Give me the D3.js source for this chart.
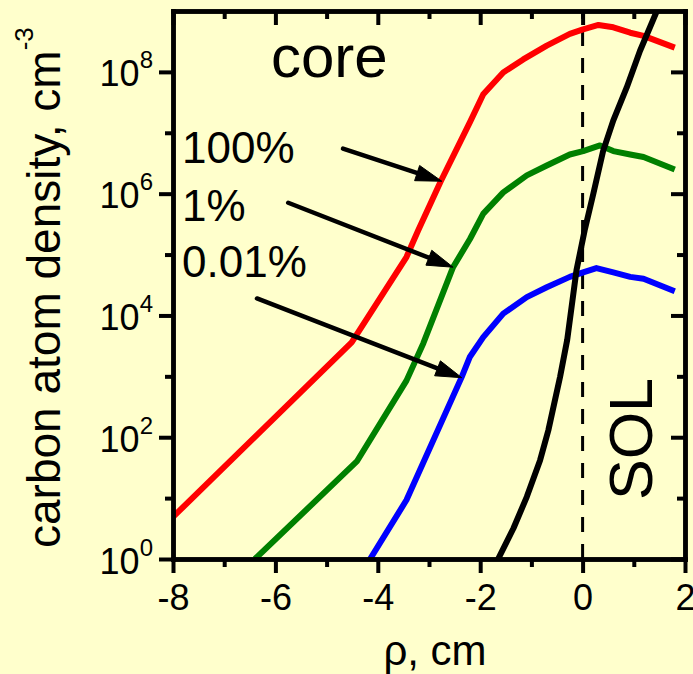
<!DOCTYPE html>
<html><head><meta charset="utf-8">
<script src="https://cdn.jsdelivr.net/npm/d3@7"></script>
<style>
html,body{margin:0;padding:0;background:#FFFFCC;}
svg{display:block;font-family:"Liberation Sans",Arial,Helvetica,sans-serif;}
</style></head><body>
<svg id="chart" width="693" height="674"></svg>
<script>
// ---- data ----
const xDomain = [-8, 2];
const yDomain = [1, 1e9];
const xMajorTicks = [-8, -6, -4, -2, 0, 2];
const xMinorTicks = [-7, -5, -3, -1, 1];
const xTickLabels = ["-8", "-6", "-4", "-2", "0", "2"];
const yMajorTicks = [1, 1e2, 1e4, 1e6, 1e8];
const yMinorTicks = [1e1, 1e3, 1e5, 1e7];
const yMajorExponents = ["0", "2", "4", "6", "8"];

// 100 % curve (red)
const rho100  = [-8, -4.51, -3.44, -3.21, -2.77, -2.2, -1.94, -1.55, -1.16, -0.70, -0.25, 0.01, 0.31, 0.60, 0.93, 1.19, 1.80];
const dens100 = [4.9, 3.6e3, 9.1e4, 2.5e5, 1.6e6, 1.5e7, 4.3e7, 9.8e7, 1.6e8, 2.7e8, 4.2e8, 5.0e8, 5.9e8, 5.4e8, 4.4e8, 3.9e8, 2.5e8];
// 1 % curve (green)
const rho1  = [-6.40, -4.41, -3.44, -3.11, -2.53, -2.2, -1.94, -1.55, -1.09, -0.70, -0.25, 0.01, 0.34, 0.60, 0.93, 1.19, 1.80];
const dens1 = [1.0, 40, 850, 3.5e3, 6.2e4, 1.8e5, 4.7e5, 1.05e6, 2.0e6, 2.9e6, 4.4e6, 5.0e6, 6.2e6, 5.0e6, 4.4e6, 4.0e6, 2.5e6];
// 0.01 % curve (blue)
const rho001  = [-4.15, -3.44, -2.36, -2.2, -1.94, -1.55, -1.09, -0.70, -0.25, 0.01, 0.27, 0.60, 0.93, 1.19, 1.80];
const dens001 = [1.0, 9.3, 980, 2.1e3, 4.4e3, 1.07e4, 2.0e4, 2.9e4, 4.3e4, 5.1e4, 6.0e4, 5.1e4, 4.3e4, 4.0e4, 2.5e4];
// black curve
const rhoBlack  = [-1.65, -1.35, -1.09, -0.83, -0.67, -0.44, -0.30, -0.12, 0.04, 0.21, 0.40, 0.60, 0.86, 1.12, 1.45];
const densBlack = [1.0, 3.2, 10.5, 42, 129, 980, 4.0e3, 5.5e4, 2.5e5, 1.0e6, 5.0e6, 1.6e7, 5.5e7, 2.2e8, 1.0e9];

const seriesLabels = ["100%", "1%", "0.01%"];
const seriesColors = ["#FF0000", "#008000", "#0000FF", "#000000"];
// arrows (from label to curve), in data coordinates
const arrowFromRho  = [-4.68, -5.75, -6.36];
const arrowFromDens = [5.5e6, 7.1e5, 1.9e4];
const arrowToRho    = [-2.75, -2.53, -2.36];
const arrowToDens   = [1.6e6, 6.2e4, 950];

// ---- drawing ----
const svg = d3.select("#chart");
const W = 693, H = 674;
const m = {left: 173, right: 685, top: 11, bottom: 559};
svg.append("rect").attr("width", W).attr("height", H).attr("fill", "#FFFFCC");

const x = d3.scaleLinear().domain(xDomain).range([m.left, m.right]);
const y = d3.scaleLog().domain(yDomain).range([m.bottom, m.top]);

svg.append("clipPath").attr("id", "plotclip").append("rect")
  .attr("x", m.left).attr("y", m.top).attr("width", m.right - m.left).attr("height", m.bottom - m.top);

// dashed separatrix
svg.append("line")
  .attr("x1", x(0)).attr("x2", x(0)).attr("y1", m.bottom).attr("y2", m.top)
  .attr("stroke", "#000").attr("stroke-width", 3).attr("stroke-dasharray", "15,12");

// curves
const line = d3.line().x(d => x(d[0])).y(d => y(d[1]));
const curves = [
  d3.zip(rho100, dens100),
  d3.zip(rho1, dens1),
  d3.zip(rho001, dens001),
  d3.zip(rhoBlack, densBlack)
];
const gCurves = svg.append("g").attr("clip-path", "url(#plotclip)");
curves.forEach((c, i) => {
  gCurves.append("path").datum(c).attr("d", line)
    .attr("fill", "none").attr("stroke", seriesColors[i])
    .attr("stroke-width", 6).attr("stroke-linejoin", "round");
});

// axes
function styleAxis(g) {
  g.select(".domain").attr("stroke", "#000").attr("stroke-width", 4.5).attr("stroke-linecap", "square");
  g.selectAll(".tick line").attr("stroke", "#000").attr("stroke-width", 4);
}
const fs = 36;
// bottom
const gB = svg.append("g").attr("transform", `translate(0,${m.bottom})`)
  .call(d3.axisBottom(x).tickValues(xMajorTicks).tickSize(14).tickSizeOuter(0)
    .tickFormat((d, i) => xTickLabels[i]));
gB.selectAll(".tick text").attr("y", 51).attr("dy", 0).attr("font-size", fs).attr("fill", "#000")
  .attr("font-family", "Liberation Sans, Arial, sans-serif");
styleAxis(gB);
const gBm = svg.append("g").attr("transform", `translate(0,${m.bottom})`)
  .call(d3.axisBottom(x).tickValues(xMinorTicks).tickSize(8).tickSizeOuter(0).tickFormat(""));
styleAxis(gBm);
// top
const gT = svg.append("g").attr("transform", `translate(0,${m.top})`)
  .call(d3.axisTop(x).tickValues(xMajorTicks).tickSize(-14).tickSizeOuter(0).tickFormat(""));
styleAxis(gT);
const gTm = svg.append("g").attr("transform", `translate(0,${m.top})`)
  .call(d3.axisTop(x).tickValues(xMinorTicks).tickSize(-8).tickSizeOuter(0).tickFormat(""));
styleAxis(gTm);
// left
const gL = svg.append("g").attr("transform", `translate(${m.left},0)`)
  .call(d3.axisLeft(y).tickValues(yMajorTicks).tickSize(14).tickSizeOuter(0).tickFormat(""));
styleAxis(gL);
gL.selectAll(".tick text").each(function(d, i) {
  const t = d3.select(this).attr("x", -20).attr("y", 14).attr("dy", 0)
    .attr("font-size", fs).attr("fill", "#000").attr("text-anchor", "end")
    .attr("font-family", "Liberation Sans, Arial, sans-serif");
  t.text(null);
  t.append("tspan").text("10");
  t.append("tspan").attr("font-size", 24).attr("dy", -18).text(yMajorExponents[i]);
});
const gLm = svg.append("g").attr("transform", `translate(${m.left},0)`)
  .call(d3.axisLeft(y).tickValues(yMinorTicks).tickSize(8).tickSizeOuter(0).tickFormat(""));
styleAxis(gLm);
// right
const gR = svg.append("g").attr("transform", `translate(${m.right},0)`)
  .call(d3.axisRight(y).tickValues(yMajorTicks).tickSize(-14).tickSizeOuter(0).tickFormat(""));
styleAxis(gR);
const gRm = svg.append("g").attr("transform", `translate(${m.right},0)`)
  .call(d3.axisRight(y).tickValues(yMinorTicks).tickSize(-8).tickSizeOuter(0).tickFormat(""));
styleAxis(gRm);

// arrows
const gA = svg.append("g");
arrowFromRho.forEach((r, i) => {
  const x0 = x(r), y0 = y(arrowFromDens[i]);
  const x1 = x(arrowToRho[i]), y1 = y(arrowToDens[i]);
  const dx = x1 - x0, dy = y1 - y0, L = Math.hypot(dx, dy);
  const ux = dx / L, uy = dy / L, nx = -uy, ny = ux;
  const hl = 26, hw = 8;
  const bx = x1 - ux * hl, by = y1 - uy * hl;
  gA.append("line").attr("x1", x0).attr("y1", y0).attr("x2", bx + ux * 2).attr("y2", by + uy * 2)
    .attr("stroke", "#000").attr("stroke-width", 4.5).attr("stroke-linecap", "round");
  gA.append("path")
    .attr("d", `M${x1},${y1}L${bx + nx * hw},${by + ny * hw}L${bx - nx * hw},${by - ny * hw}Z`)
    .attr("fill", "#000").attr("stroke", "#000").attr("stroke-width", 1).attr("stroke-linejoin", "round");
});

// text annotations
const labelY = [163, 221, 277];
seriesLabels.forEach((s, i) => {
  svg.append("text").attr("x", 182).attr("y", labelY[i]).attr("font-size", 44).attr("fill", "#000").text(s);
});
svg.append("text").attr("x", 271).attr("y", 77).attr("font-size", 60).attr("fill", "#000").text("core");
svg.append("text").attr("transform", "translate(652,439) rotate(-90)").attr("text-anchor", "middle")
  .attr("font-size", 61).attr("fill", "#000").text("SOL");

// axis titles
svg.append("text").attr("x", 435).attr("y", 665).attr("text-anchor", "middle")
  .attr("font-size", 42).attr("fill", "#000").text("ρ, cm");
const yt = svg.append("text").attr("transform", "translate(60,548) rotate(-90)")
  .attr("font-size", 46).attr("fill", "#000");
yt.append("tspan").text("carbon atom density, cm");
yt.append("tspan").attr("font-size", 26).attr("dy", -27).text("-3");
</script>
</body></html>
